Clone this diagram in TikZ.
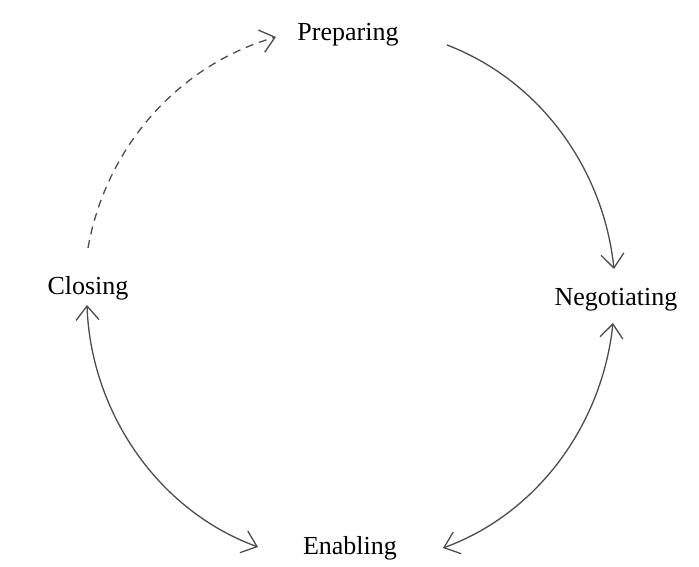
\documentclass[tikz,border=0pt]{standalone}
\usepackage{fontspec}
\setmainfont{Liberation Serif}
\usetikzlibrary{arrows.meta}
\begin{document}
\begin{tikzpicture}[x=1pt,y=1pt,
  stage/.style={inner sep=2pt, font=\fontsize{26}{30}\selectfont, text=black},
  conn/.style={draw=black!70, line width=1.3pt},
  barb/.tip={Straight Barb[length=14pt,width=23pt,line width=1.3pt]},
  trace/.style={conn, dash pattern=on 8pt off 6pt}]
\useasboundingbox (0,0) rectangle (699,567);

% the four phases, placed round a circle
\node[stage] (prep) at (348,532) {Preparing};
\node[stage] (neg)  at (616,267) {Negotiating};
\node[stage] (enab) at (350,19)  {Enabling};
\node[stage] (clos) at (88,279)  {Closing};

% clockwise arcs between the phases
\draw[conn,-barb] ([shift={(99,-10)}]prep.center)
  to[out=-21, in=96, looseness=0.92] ([shift={(-2,31)}]neg.center);
\draw[conn,barb-barb] ([shift={(-3,-23)}]neg.center)
  to[out=-96, in=20, looseness=0.92] ([shift={(93,0)}]enab.center);
\draw[conn,barb-barb] ([shift={(-92,1)}]enab.center)
  to[out=160, in=-88, looseness=0.92] ([shift={(-1,-17)}]clos.center);
\draw[trace,-barb] ([shift={(0,40)}]clos.center)
  to[out=80, in=196, looseness=0.92] ([shift={(-72,-2)}]prep.center);
\end{tikzpicture}
\end{document}
